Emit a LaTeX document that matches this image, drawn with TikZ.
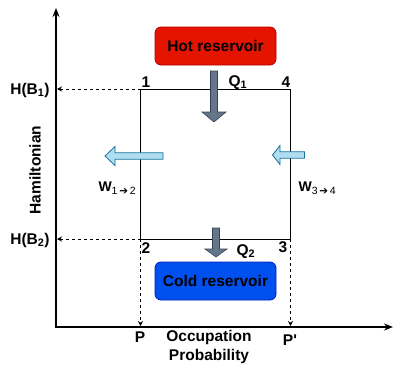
\documentclass[tikz,border=0pt]{standalone}
\usepackage{fontspec}
\setmainfont{Liberation Sans}[Ligatures=TeXOff]
\newfontfamily\symfont{DejaVu Sans}
\usetikzlibrary{arrows.meta, calc}
\definecolor{hotred}{RGB}{229, 20, 0}
\definecolor{hotedge}{RGB}{178, 0, 0}
\definecolor{coldblue}{RGB}{0, 80, 239}
\definecolor{coldedge}{RGB}{0, 29, 188}
\definecolor{heatgray}{RGB}{100, 118, 135}
\definecolor{heatedge}{RGB}{49, 67, 84}
\definecolor{workblue}{RGB}{177, 221, 240}
\definecolor{workedge}{RGB}{16, 115, 158}
\newcommand{\wsub}[2]{\raisebox{-3pt}{\fontsize{10.5}{11}\selectfont\mdseries #1\,{\symfont ➔}\,#2}}

\begin{document}
\begin{tikzpicture}[x=1pt, y=-1pt, >={Stealth[length=5pt,width=5pt]},
    font=\fontsize{15.5}{18}\selectfont\bfseries,
    reservoir/.style={rounded corners=6pt, line width=0.8pt, minimum width=121pt,
                      minimum height=38pt, inner sep=0pt},
    guide/.style={->, line width=0.8pt, dash pattern=on 3pt off 3pt, shorten >=1pt},
    heatflow/.style={fill=heatgray, draw=heatedge, line width=0.6pt},
    workflow/.style={fill=workblue, draw=workedge, line width=0.8pt}]

    \useasboundingbox (0,0) rectangle (401,367);

    % ==========================================================
    % ejes
    % ==========================================================
    \coordinate (O) at (56,327);
    \coordinate (ytop) at (56,8);
    \coordinate (xend) at (393,327);
    \draw[{Stealth[length=9pt,width=7pt]}-{Stealth[length=9pt,width=7pt]}, line width=1.5pt]
        (ytop) -- (O) -- (xend);

    \node (hb1) at (30,90) {H(B\textsubscript{1})};
    \node (hb2) at (30,240) {H(B\textsubscript{2})};
    \node[rotate=90] (ham) at (35,170) {Hamiltonian};
    \node (p) at (140,337.5) {P};
    \node (pp) at (290,340.5) {P'};
    \node[align=center, font=\fontsize{15.5}{19}\selectfont\bfseries] (occ) at (209,347)
        {Occupation\\Probability};

    % ==========================================================
    % ciclo
    % ==========================================================
    \coordinate (c1) at (140.5,89);
    \coordinate (c4) at (290.5,89);
    \coordinate (c3) at (290.5,239);
    \coordinate (c2) at (140.5,239);
    \draw[line width=0.9pt] (c1) -- (c4) -- (c3) -- (c2) -- cycle;

    % proyecciones sobre los ejes
    \draw[guide] (c1) -- (c1 -| O);
    \draw[guide] (c2) -- (c2 -| O);
    \draw[guide] (c2) -- (c2 |- O);
    \draw[guide] (c3) -- (c3 |- O);

    \node (lab1) at (146,81.7) {1};
    \node (lab4) at (286,82) {4};
    \node (lab2) at (146,248) {2};
    \node (lab3) at (283,247) {3};

    % ==========================================================
    % reservorios y flujos
    % ==========================================================
    \node[reservoir, fill=hotred, draw=hotedge] (hot) at (215.5,46) {Hot reservoir};
    \node[reservoir, fill=coldblue, draw=coldedge] (cold) at (215.5,281) {Cold reservoir};

    % calor entrante y saliente
    \draw[heatflow] (210.5,71) -- ++(7,0) -- ++(0,41) -- ++(8.5,0) -- ++(-12,10)
        -- ++(-12,-10) -- ++(8.5,0) -- cycle;
    \draw[heatflow] (212.5,228) -- ++(7,0) -- ++(0,21) -- ++(7.5,0) -- ++(-11,8)
        -- ++(-11,-8) -- ++(7.5,0) -- cycle;
    \node[anchor=base west] (q1) at (225,86) {Q\textsubscript{1}};
    \node[anchor=base west] (q2) at (233,255) {Q\textsubscript{2}};

    % trabajo en las dos adiabaticas
    \draw[workflow] (163,152.8) -- ++(-48,0) -- ++(0,-6.3) -- ++(-10,9.5) -- ++(10,9.5)
        -- ++(0,-6.3) -- ++(48,0) -- cycle;
    \draw[workflow] (304.5,151.8) -- ++(-24.5,0) -- ++(0,-6.3) -- ++(-7.5,9.5) -- ++(7.5,9.5)
        -- ++(0,-6.3) -- ++(24.5,0) -- cycle;
    \node[anchor=base west, font=\fontsize{14}{16}\selectfont\bfseries] (w12) at (95,191) {W\wsub{1}{2}};
    \node[anchor=base west, font=\fontsize{14}{16}\selectfont\bfseries] (w34) at (295,191) {W\wsub{3}{4}};

\end{tikzpicture}
\end{document}
